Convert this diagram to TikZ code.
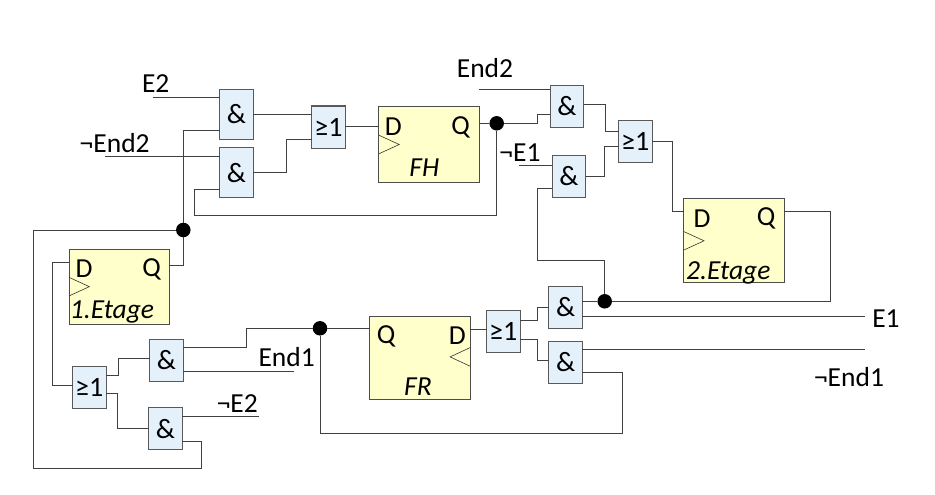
\documentclass[tikz,border=0pt]{standalone}
\usepackage{fontspec}
\setmainfont{Carlito}
\usetikzlibrary{positioning}
\definecolor{gatefill}{HTML}{E4F0FA}
\definecolor{fffill}{HTML}{FFFFCC}

\begin{document}
\begin{tikzpicture}[x=1pt, y=-1pt,
gate/.style={rectangle, draw=black!65, fill=gatefill, line width=1pt, inner sep=0pt, outer sep=0pt, minimum width=33.6pt, minimum height=42pt, font=\fontsize{28}{32}\selectfont},
flipflop/.style={rectangle, draw=black!70, fill=fffill, line width=1pt, inner sep=0pt, outer sep=0pt, minimum width=100.3pt},
junction/.style={circle, fill=black, inner sep=0pt, minimum size=14.5pt},
wire/.style={draw=black!75, line width=1pt},
clk/.style={draw=black!80, line width=0.6pt},
sig/.style={inner sep=0pt, font=\fontsize{27.5}{32}\selectfont},
]
\useasboundingbox (0,0) rectangle (935,495);

%Nodes
\node[gate, minimum height=50pt]      (and1)     at (236.3,114.5)                        {\&};
\node[gate, minimum height=50pt]      (and2)     [below=8.2pt of and1]                   {\&};
\node[gate]      (or1)      [right=58.5pt of and1, yshift=-12.5pt]   {≥1};
\node[flipflop, minimum height=75.6pt]  (ffH)    [right=33.7pt of or1, yshift=-17.5pt]   {};
\node[gate]      (and3)     [right=71pt of ffH, yshift=38.2pt]       {\&};
\node[gate]      (and4)     [below=28pt of and3, xshift=1.8pt]       {\&};
\node[gate]      (or2)      [right=34.7pt of and3, yshift=-35.2pt]   {≥1};
\node[flipflop, minimum height=83.7pt]  (ffTwo)  [right=31.6pt of or2, yshift=-99.3pt]   {};
\node[flipflop, minimum height=75.3pt]  (ffOne)  [below=51.3pt of and2, xshift=-117.1pt] {};
\node[gate]      (or4)      [below=41.7pt of ffOne, xshift=-29.9pt]  {≥1};
\node[gate]      (and7)     [right=43.4pt of or4, yshift=26.5pt]     {\&};
\node[gate]      (and8)     [below=26.4pt of and7, xshift=-1pt]      {\&};
\node[flipflop, minimum height=83.3pt]  (ffR)    [right=186.7pt of and7, yshift=2.6pt]   {};
\node[gate]      (or3)      [right=16.4pt of ffR, yshift=26.5pt]     {≥1};
\node[gate]      (and5)     [right=28.7pt of or3, yshift=23.9pt]     {\&};
\node[gate]      (and6)     [below=13pt of and5]                     {\&};

%Flip-flop texts
\node[sig] (ffHd)   at (393.3,126.7) {D};
\node[sig] (ffHq)   at (460.7,127.2) {Q};
\node[sig] (ffHn)   at (424.3,167.3) {\itshape FH};
\node[sig] (ffOned) at (84,268.7)    {D};
\node[sig] (ffOneq) at (151.7,269.2) {Q};
\node[sig] (ffOnen) at (112,312)     {\itshape 1.Etage};
\node[sig] (ffTwod) at (702,218.3)   {D};
\node[sig] (ffTwoq) at (766,218.8)   {Q};
\node[sig] (ffTwon) at (728.3,273)   {\itshape 2.Etage};
\node[sig] (ffRq)   at (386,336.5)   {Q};
\node[sig] (ffRd)   at (457.3,336)   {D};
\node[sig] (ffRn)   at (418,386.7)   {\itshape FR};

%Signals
\node[sig] (lblEtwo)     at (155.7,84)  {E2};
\node[sig] (lblNotEndtwo) at (114.7,143) {¬End2};
\node[sig] (lblEndtwo)   at (485,68)    {End2};
\node[sig] (lblNotEone)  at (520,152.7) {¬E1};
\node[sig] (lblEone)     at (886,318.5) {E1};
\node[sig] (lblNotEndone) at (849,377)  {¬End1};
\node[sig] (lblEndone)   at (286.7,357) {End1};
\node[sig] (lblNotEtwo)  at (237.3,404) {¬E2};

\coordinate (inEtwo)      at (152.7,97.7);
\coordinate (inNotEndtwo) at (105.3,156);
\coordinate (inEndtwo)    at (479,90);
\coordinate (inNotEone)   at (519,165);
\coordinate (outEone)     at (864.7,316.3);
\coordinate (outNotEndone) at (865,349.7);
\coordinate (inEndone)    at (294.3,371.3);
\coordinate (inNotEtwo)   at (259.3,416);

\node[junction] (dotOne) at (183.3,230)   {};
\node[junction] (dotH)   at (496.7,123.3) {};
\node[junction] (dotTwo) at (604.7,301.3) {};
\node[junction] (dotR)   at (320,328.3)   {};

%Clock inputs
\foreach \ff in {ffH,ffOne,ffTwo}
    \draw[clk] ([yshift=9.3pt]\ff.west) -- ([xshift=20.3pt]\ff.west) -- ([yshift=-9.3pt]\ff.west);
\draw[clk] ([yshift=10.3pt]ffR.east) -- ([xshift=-20pt,yshift=1pt]ffR.east) -- ([yshift=-8.3pt]ffR.east);

%Lines
\draw[wire] (inEtwo) -- (inEtwo -| and1.west);
\draw[wire] (inNotEndtwo) -- (inNotEndtwo -| and2.west);
\draw[wire] (dotOne) |- ([yshift=-16.2pt]and1.west);
\draw[wire] ([yshift=21.4pt]ffOne.east) -| (dotOne);
\draw[wire] ([yshift=-12.5pt]and8.east) -- ++(19.4,0) -- ++(0,26.7) -- ++(-168.4,0) |- (dotOne);
\draw[wire] (and1.east) -- (and1.east -| or1.west);
\draw[wire] (and2.east) -- ++(33.7,0) |- ([yshift=-12.3pt]or1.west);
\draw[wire] ([yshift=-16.6pt]and2.west) -- ++(-24.8,0) -- ++(0,26) -| (dotH);
\draw[wire] (or1.east) ++(0,-1) -- ([yshift=18.5pt]ffH.west);
\draw[wire] (dotH -| ffH.east) -- (dotH);
\draw[wire] (dotH) -- ++(40.3,0) |- ([yshift=-8pt]and3.west);
\draw[wire] (inEndtwo) -- (inEndtwo -| and3.west);
\draw[wire] (inNotEone) -- (inNotEone -| and4.west);
\draw[wire] ([yshift=-12.5pt]and4.west) -- ++(-14.7,0) -- ++(0,72) -| (dotTwo);
\draw[wire] ([yshift=1.6pt]and3.east) -- ++(22,0) |- ([yshift=10.2pt]or2.west);
\draw[wire] ([yshift=-0.5pt]and4.east) -- ++(19.3,0) |- ([yshift=-4.8pt]or2.west);
\draw[wire] (or2.east) -- ++(20.3,0) |- ([yshift=29.8pt]ffTwo.west);
\draw[wire] ([yshift=29.8pt]ffTwo.east) -- ++(46.6,0) |- (dotTwo);
\draw[wire] (dotTwo -| and5.east) -- (dotTwo);
\draw[wire] (outEone -| and5.east) -- (outEone);
\draw[wire] (outNotEndone -| and6.east) -- (outNotEndone);
\draw[wire] ([yshift=-9.7pt]and6.east) -- ++(40,0) -- ++(0,61.3) -| (dotR);
\draw[wire] (dotR) -- (dotR -| ffR.west);
\draw[wire] ([yshift=28pt]ffR.east) -- ([yshift=1.5pt]or3.west);
\draw[wire] ([yshift=11.2pt]or3.east) -- ++(17,0) |- (and5.west);
\draw[wire] ([yshift=-8.1pt]or3.east) -- ++(17.7,0) |- ([yshift=1.7pt]and6.west);
\draw[wire] ([yshift=13pt]and7.east) -- ++(63,0) |- (dotR);
\draw[wire] (inEndone -| and7.east) -- (inEndone);
\draw[wire] (inNotEtwo -| and8.east) -- (inNotEtwo);
\draw[wire] ([yshift=12pt]or4.east) -- ++(12.4,0) |- ([yshift=1.6pt]and7.west);
\draw[wire] ([yshift=-6.5pt]or4.east) -- ++(11.4,0) |- (and8.west);
\draw[wire] ([yshift=24.4pt]ffOne.west) -- ++(-17,0) |- ([yshift=1.8pt]or4.west);
\end{tikzpicture}
\end{document}
